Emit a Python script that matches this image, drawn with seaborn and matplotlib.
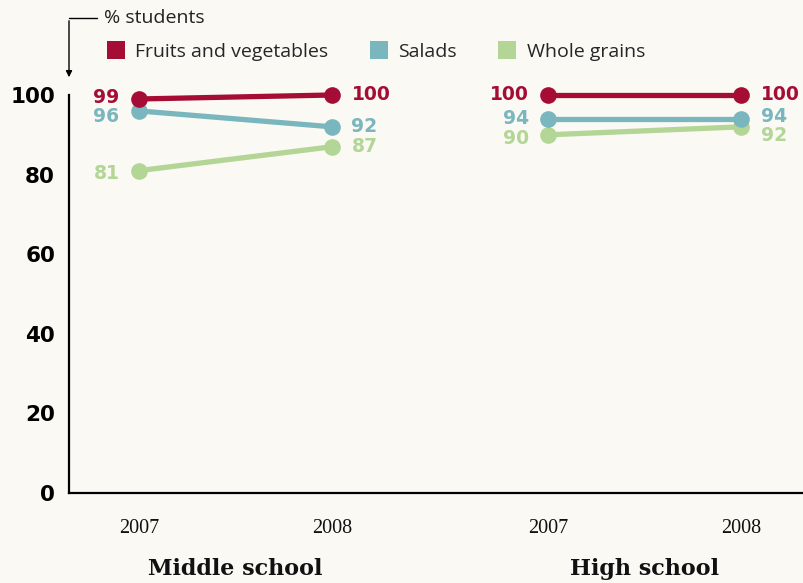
import pandas as pd
import seaborn as sns
import matplotlib.pyplot as plt
from matplotlib.lines import Line2D

# Data
schools = ['Middle school', 'High school']
years = ['2007', '2008']
items = ['Fruits and vegetables', 'Salads', 'Whole grains']
fruits_veg = [99, 100, 100, 100]   # MS 2007, MS 2008, HS 2007, HS 2008
salads = [96, 92, 94, 94]
whole_grains = [81, 87, 90, 92]

colors = {'Fruits and vegetables': '#a50d35', 'Salads': '#7ab6bd', 'Whole grains': '#b3d596'}
bg = '#fbf9f4'

# label nudges in points (to keep labels from overlapping)
nudge = {
    ('Fruits and vegetables', 0): 1, ('Salads', 0): -4, ('Whole grains', 0): -2,
    ('Salads', 2): 0, ('Whole grains', 2): -2.5,
    ('Salads', 3): 2, ('Whole grains', 3): -6,
}

group_gap = 2.12
rows = []
for i, (vals, name) in enumerate(zip([fruits_veg, salads, whole_grains], items)):
    for j, v in enumerate(vals):
        g, k = divmod(j, 2)
        rows.append({'item': name, 'school': schools[g], 'year': years[k],
                     'x': g * group_gap + k, 'pct': v, 'idx': j})
df = pd.DataFrame(rows)

sns.set_theme(style='white')
plt.rcParams['font.family'] = ['Open Sans', 'DejaVu Sans']

fig = plt.figure(figsize=(8.04, 5.83), dpi=100, facecolor=bg)
ax = fig.add_axes([69 / 804, 1 - 493 / 583, 1 - 69 / 804, (493 - 95) / 583])
ax.set_facecolor(bg)

for name in ['Whole grains', 'Salads', 'Fruits and vegetables']:
    sub = df[df['item'] == name]
    sns.lineplot(data=sub, x='x', y='pct', units='school', estimator=None,
                 color=colors[name], linewidth=3.8, marker='o', markersize=12,
                 markeredgewidth=0, ax=ax, clip_on=False, zorder=3)
    for _, r in sub.iterrows():
        left = r['year'] == '2007'
        ax.annotate(str(r['pct']), (r['x'], r['pct']),
                    xytext=(-14 if left else 14, nudge.get((name, r['idx']), 0)),
                    textcoords='offset points', ha='right' if left else 'left',
                    va='center', color=colors[name], fontsize=13.5,
                    fontweight='bold', family='DejaVu Sans', annotation_clip=False)

ax.set_xlim(-0.363, 3.446)
ax.set_ylim(0, 100)
ax.set_yticks([0, 20, 40, 60, 80, 100])
ax.set_yticklabels(['0', '20', '40', '60', '80', '100'], fontsize=15.5,
                   fontweight='bold', family='DejaVu Sans', color='black')
xt = sorted(df['x'].unique())
ax.set_xticks(xt)
ax.set_xticklabels(years * 2, fontsize=14.5, family='Liberation Serif', color='#111111')
ax.tick_params(axis='x', length=0, pad=19)
ax.tick_params(axis='y', length=0, pad=10)
ax.set_xlabel('')
ax.set_ylabel('')
for s in ['top', 'right']:
    ax.spines[s].set_visible(False)
for s in ['left', 'bottom']:
    ax.spines[s].set_color('black')
    ax.spines[s].set_linewidth(1.6)

# school labels under each pair of years
for g, school in enumerate(schools):
    cx = g * group_gap + 0.5
    ax.text(cx, -19, school, ha='center', va='center', fontsize=16,
            fontweight='bold', family='DejaVu Serif', color='#111111')

# unit label with arrow
fig.text(104 / 804, 1 - 18 / 583, '% students', ha='left', va='center',
         fontsize=14, color='#222222')
fig.add_artist(Line2D([97 / 804, 69 / 804], [1 - 18 / 583, 1 - 18 / 583],
                      color='black', linewidth=1, transform=fig.transFigure))
ax.annotate('', xy=(69, 583 - 80), xytext=(69, 583 - 18), xycoords='figure pixels',
            textcoords='figure pixels',
            arrowprops=dict(arrowstyle='-|>', color='black', lw=1, mutation_scale=9))

handles = [Line2D([], [], marker='s', linestyle='', markersize=13,
                  markerfacecolor=colors[n], markeredgewidth=0, label=n) for n in items]
fig.legend(handles=handles, loc='center left', bbox_to_anchor=(104 / 804, 1 - 52 / 583),
           ncol=3, frameon=False, fontsize=14, handletextpad=0.4,
           columnspacing=2.0, handlelength=1.2, borderaxespad=0, borderpad=0)

fig.savefig('out.png', dpi=100, facecolor=bg)
